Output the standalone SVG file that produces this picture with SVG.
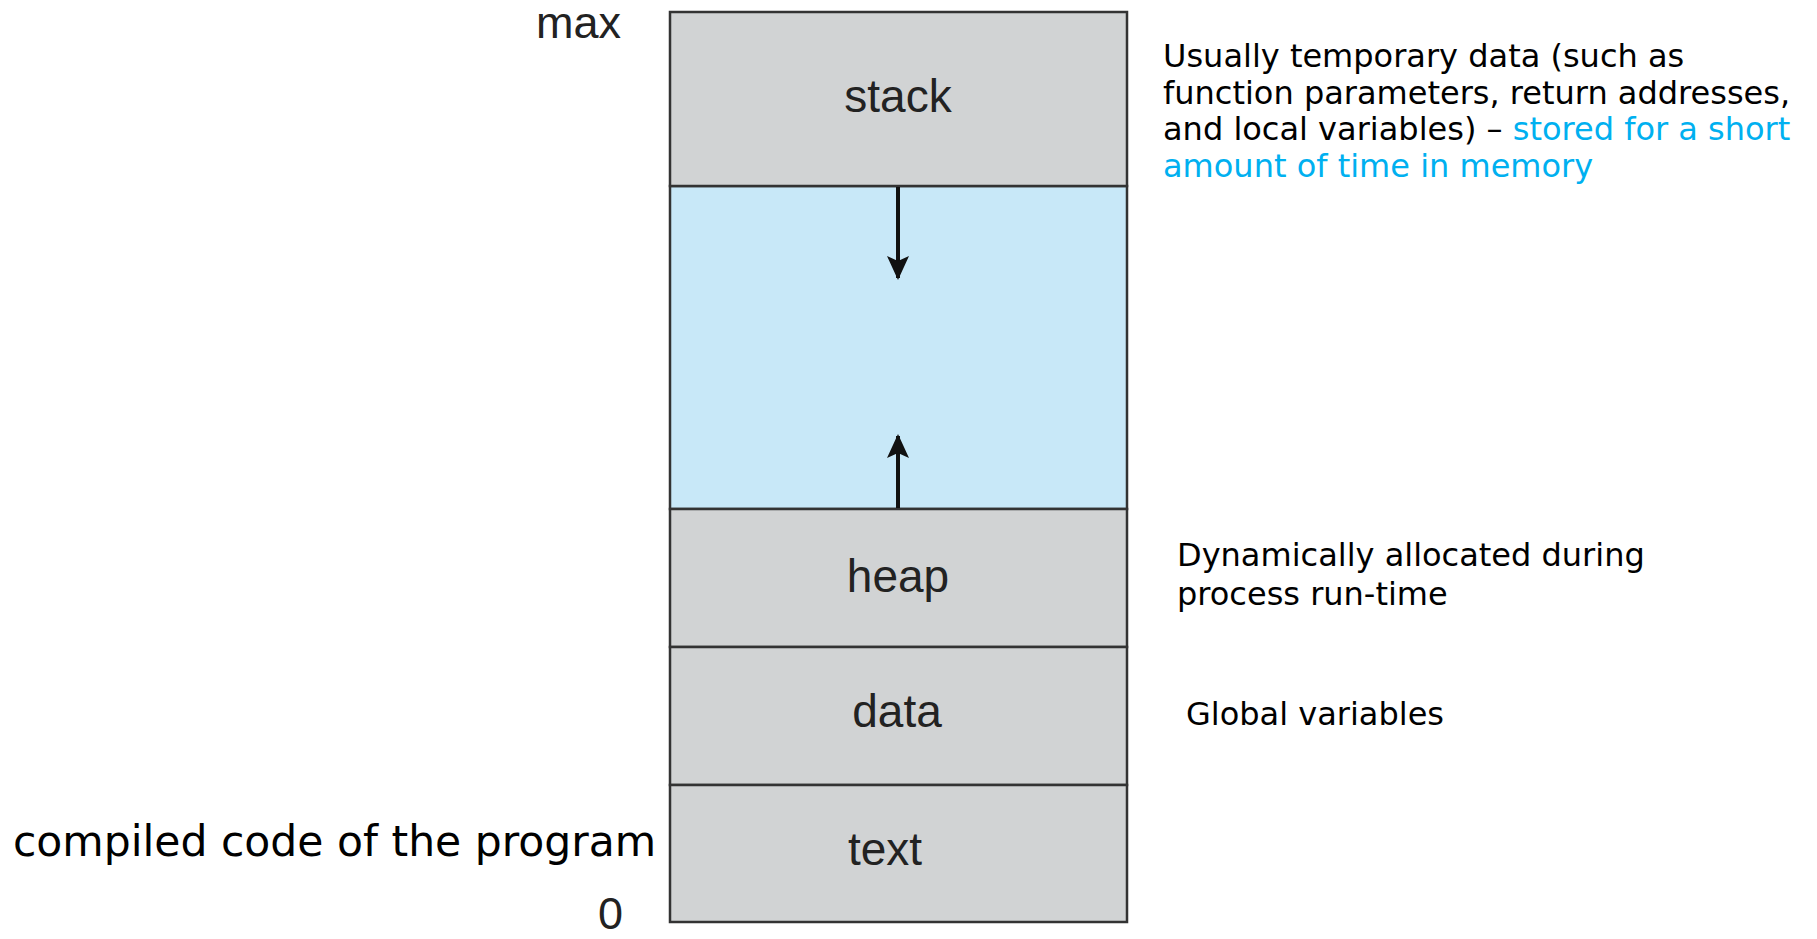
<svg xmlns="http://www.w3.org/2000/svg" width="1817" height="939" viewBox="0 0 1817 939">
<style>
.seg{fill:#d1d3d4;stroke:#333;stroke-width:2.5}
.free{fill:#c8e8f8;stroke:#333;stroke-width:2.5}
.lbl{font-family:"Liberation Sans",Arial,sans-serif;font-size:46px;fill:#222;text-anchor:middle}
.axis{font-family:"Liberation Sans",Arial,sans-serif;font-size:45px;fill:#222}
.note{font-family:"DejaVu Sans",Verdana,sans-serif;font-size:32px;fill:#000}
.hl{fill:#00b0f0}
.conn{stroke:#111;stroke-width:4;fill:none}
</style>
<defs>
<marker id="ah" markerWidth="24" markerHeight="24" refX="22" refY="11" orient="auto" markerUnits="userSpaceOnUse">
<path d="M0,0 L24,11 L0,22 L5,11 Z" fill="#111"/>
</marker>
</defs>
<rect width="1817" height="939" fill="#fff"/>
<g id="free"><rect class="free" x="670" y="186" width="457" height="323"/></g>
<g id="stack"><rect class="seg" x="670" y="12" width="457" height="174"/><text class="lbl" x="898" y="112">stack</text></g>
<g id="heap"><rect class="seg" x="670" y="509" width="457" height="138"/><text class="lbl" x="898" y="592">heap</text></g>
<g id="data"><rect class="seg" x="670" y="647" width="457" height="138"/><text class="lbl" x="897" y="727">data</text></g>
<g id="text"><rect class="seg" x="670" y="785" width="457" height="137"/><text class="lbl" x="885" y="865">text</text></g>
<g id="connectors">
<line class="conn" x1="898" y1="187" x2="898" y2="278" marker-end="url(#ah)"/>
<line class="conn" x1="898" y1="508" x2="898" y2="436" marker-end="url(#ah)"/>
</g>
<g id="axis">
<text class="axis" x="536" y="38">max</text>
<text class="axis" x="598" y="929">0</text>
</g>
<g id="notes">
<text class="note" x="1163" y="67">Usually temporary data (such as</text>
<text class="note" x="1163" y="104">function parameters, return addresses,</text>
<text class="note" x="1163" y="140">and local variables) – <tspan class="hl">stored for a short</tspan></text>
<text class="note hl" x="1163" y="177">amount of time in memory</text>
<text class="note" x="1177" y="566">Dynamically allocated during</text>
<text class="note" x="1177" y="605">process run-time</text>
<text class="note" x="1186" y="725">Global variables</text>
<text class="note" x="13" y="856" style="font-size:42.5px">compiled code of the program</text>
</g>
</svg>
